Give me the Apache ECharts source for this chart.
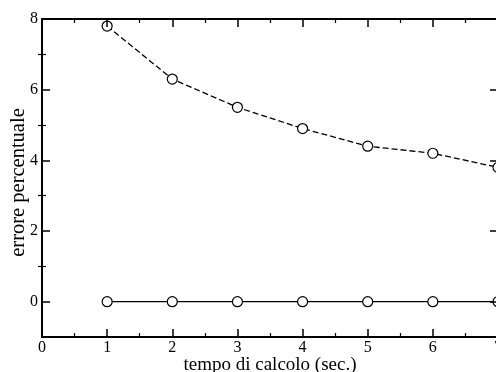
<!DOCTYPE html>
<html>
<head>
<meta charset="utf-8">
<script src="https://cdn.jsdelivr.net/npm/echarts@6/dist/echarts.min.js"></script>
<style>
  html, body { margin: 0; padding: 0; background: #fff; }
  #chart { width: 496px; height: 372px; }
</style>
</head>
<body>
<div id="chart"></div>
<script>
const tempi = [1, 2, 3, 4, 5, 6, 7];
const erroreTratteggiato = [7.8, 6.3, 5.5, 4.9, 4.4, 4.2, 3.8];
const erroreContinuo = [0, 0, 0, 0, 0, 0, 0];
const yMajor = [0, 2, 4, 6, 8];
const yMinor = [1, 3, 5, 7];

const font = 'Liberation Serif';
const black = '#000';

const chart = echarts.init(document.getElementById('chart'));

const xBase = {
  type: 'value', min: 0, max: 7, interval: 1,
  axisLine: { show: true, onZero: false, lineStyle: { color: black, width: 2 } },
  axisTick: { show: true, inside: true, length: 8, lineStyle: { color: black, width: 1.5 } },
  minorTick: { show: true, splitNumber: 2, length: 4, lineStyle: { color: black, width: 1.2 } },
  splitLine: { show: false }
};
const yBase = {
  type: 'value', min: -1, max: 8,
  splitLine: { show: false }
};

chart.setOption({
  animation: false,
  grid: { left: 42, top: 19, right: -2, bottom: 35, containLabel: false, outerBoundsMode: 'none' },
  xAxis: [
    Object.assign({}, xBase, {
      position: 'bottom',
      name: 'tempo di calcolo (sec.)',
      nameLocation: 'middle',
      nameGap: 19,
      nameMoveOverlap: false,
      nameTextStyle: { fontFamily: font, fontSize: 19, color: black },
      axisLabel: { fontFamily: font, fontSize: 16, color: black, margin: 3 }
    }),
    Object.assign({}, xBase, {
      position: 'top',
      z: 10,
      axisLabel: { show: false }
    })
  ],
  yAxis: [
    Object.assign({}, yBase, {
      position: 'left',
      name: 'errore percentuale',
      nameLocation: 'middle',
      nameGap: 13,
      nameMoveOverlap: false,
      nameTextStyle: { fontFamily: font, fontSize: 20.5, color: black, padding: [0, 9, 0, 0] },
      axisLine: { show: true, onZero: false, lineStyle: { color: black, width: 2 } },
      axisTick: { show: true, inside: true, length: 8, customValues: yMajor, lineStyle: { color: black, width: 1.5 } },
      axisLabel: { fontFamily: font, fontSize: 16, color: black, margin: 4, customValues: yMajor }
    }),
    Object.assign({}, yBase, {
      position: 'left',
      axisLine: { show: false },
      axisTick: { show: true, inside: true, length: 4, customValues: yMinor, lineStyle: { color: black, width: 1.2 } },
      axisLabel: { show: false }
    }),
    Object.assign({}, yBase, {
      position: 'right',
      z: 10,
      axisLine: { show: true, onZero: false, lineStyle: { color: black, width: 2 } },
      axisTick: { show: true, inside: true, length: 8, customValues: yMajor, lineStyle: { color: black, width: 1.5 } },
      axisLabel: { show: false }
    }),
    Object.assign({}, yBase, {
      position: 'right',
      z: 10,
      axisLine: { show: false },
      axisTick: { show: true, inside: true, length: 4, customValues: yMinor, lineStyle: { color: black, width: 1.2 } },
      axisLabel: { show: false }
    })
  ],
  series: [
    {
      type: 'line',
      data: tempi.map((t, i) => [t, erroreTratteggiato[i]]),
      symbol: 'circle',
      symbolSize: 10,
      itemStyle: { color: '#fff', borderColor: black, borderWidth: 1.2 },
      lineStyle: { color: black, width: 1.3, type: [6, 3] },
      z: 3
    },
    {
      type: 'line',
      data: tempi.map((t, i) => [t, erroreContinuo[i]]),
      symbol: 'circle',
      symbolSize: 10,
      itemStyle: { color: '#fff', borderColor: black, borderWidth: 1.2 },
      lineStyle: { color: black, width: 1.3 },
      z: 3
    }
  ]
});
</script>
</body>
</html>
